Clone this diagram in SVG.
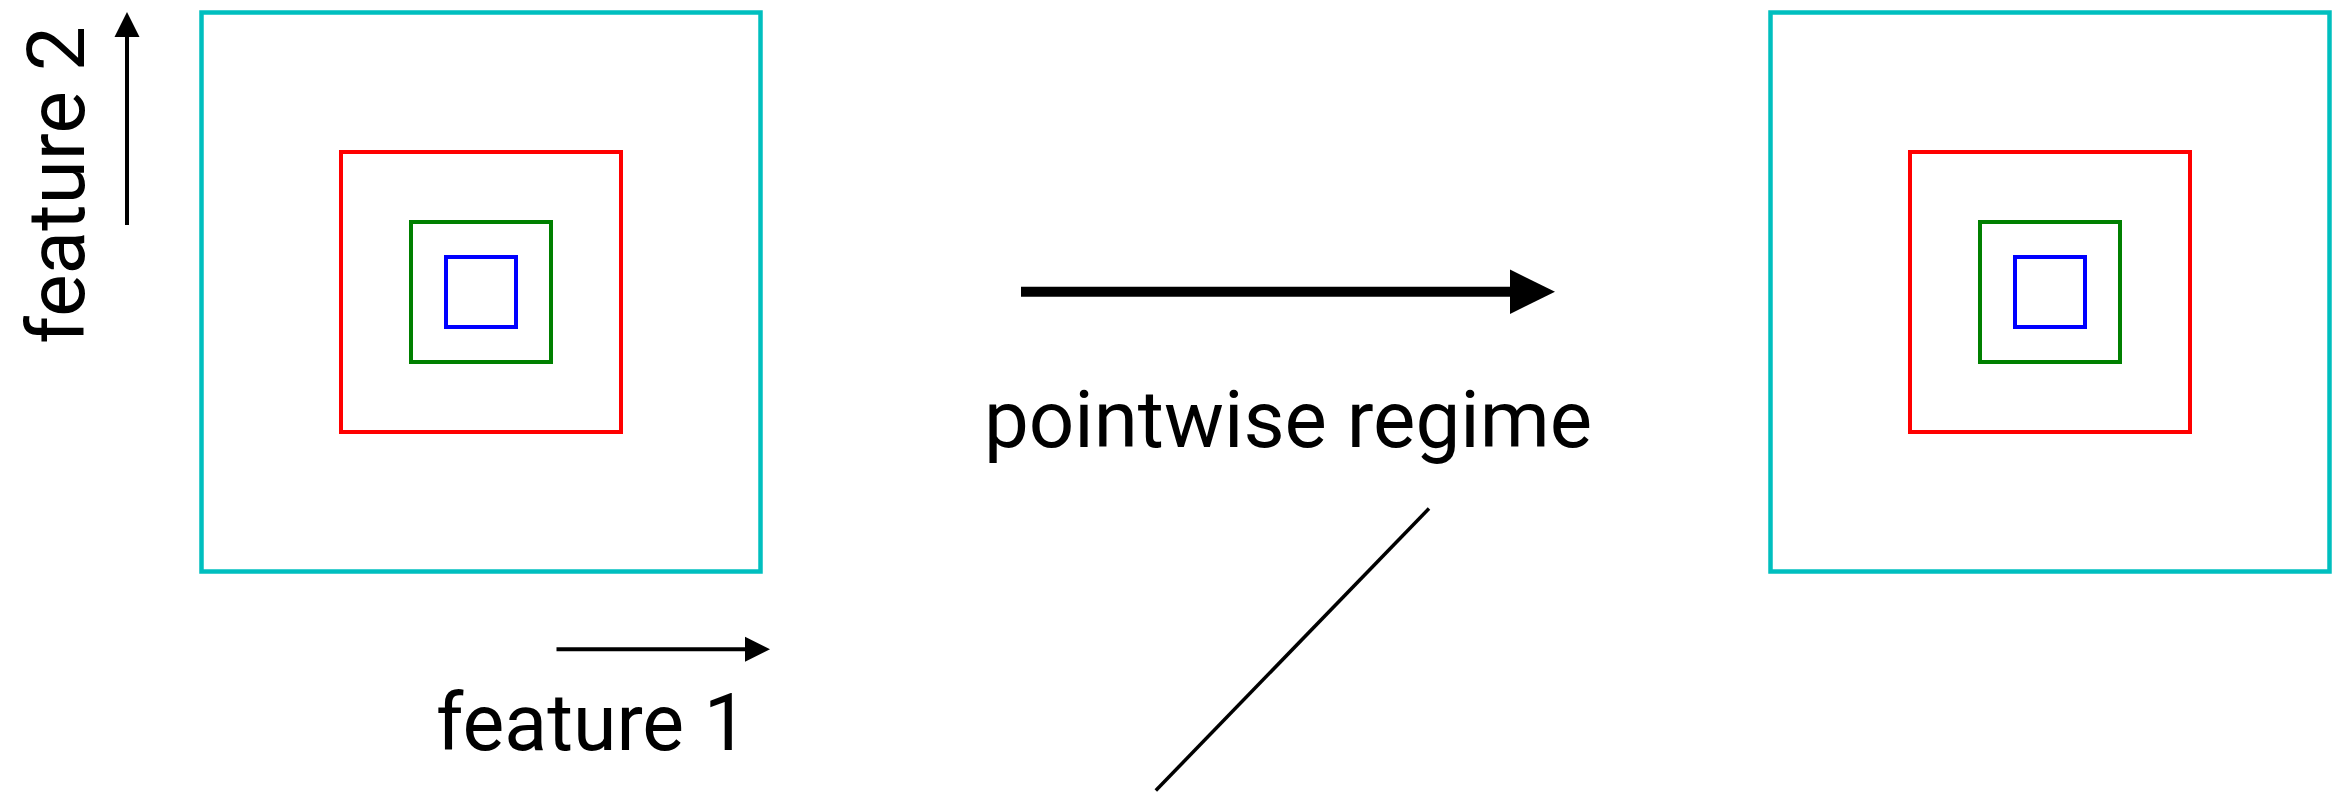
<svg xmlns="http://www.w3.org/2000/svg" width="2332" height="792" viewBox="0 0 2332 792">
  <style>
    .box { fill: none; stroke-linejoin: miter; }
    .c1 { stroke: #00bfbf; stroke-width: 4.5; }
    .c2 { stroke: #ff0000; stroke-width: 4; }
    .c3 { stroke: #008000; stroke-width: 4; }
    .c4 { stroke: #0000ff; stroke-width: 4; }
    .lbl { font-family: Roboto, Lato, "Liberation Sans", sans-serif; font-weight: 400; fill: #000; }
    .ax { stroke: #000; stroke-width: 4; fill: none; }
  </style>
  <rect width="2332" height="792" fill="#ffffff"/>

  <!-- left set of nested level sets -->
  <g id="left-squares">
    <rect class="box c1" x="201.5" y="12.5" width="559" height="559"/>
    <rect class="box c2" x="341" y="152" width="280" height="280"/>
    <rect class="box c3" x="411" y="222" width="140" height="140"/>
    <rect class="box c4" x="446" y="257" width="70" height="70"/>
  </g>

  <!-- right set of nested level sets -->
  <g id="right-squares">
    <rect class="box c1" x="1770.5" y="12.5" width="559" height="559"/>
    <rect class="box c2" x="1910" y="152" width="280" height="280"/>
    <rect class="box c3" x="1980" y="222" width="140" height="140"/>
    <rect class="box c4" x="2015" y="257" width="70" height="70"/>
  </g>

  <!-- axis labels -->
  <g id="feature-2">
    <line class="ax" x1="127" y1="225" x2="127" y2="36"/>
    <polygon points="127,12 114.5,37 139.5,37" fill="#000"/>
    <text class="lbl" font-size="80" transform="translate(84,344) rotate(-90)" textLength="318" lengthAdjust="spacingAndGlyphs">feature 2</text>
  </g>

  <g id="feature-1">
    <line class="ax" x1="556.5" y1="649.3" x2="746" y2="649.3"/>
    <polygon points="770,649.3 745,636.8 745,661.8" fill="#000"/>
    <text class="lbl" font-size="80" x="436" y="750" textLength="312" lengthAdjust="spacingAndGlyphs">feature 1</text>
  </g>

  <!-- transition between the two panels -->
  <g id="connectors">
    <line x1="1021" y1="291.7" x2="1512" y2="291.7" stroke="#000" stroke-width="10"/>
    <polygon points="1555,291.7 1510,269.5 1510,314" fill="#000"/>
    <line x1="1429" y1="508.5" x2="1155.8" y2="790.5" stroke="#000" stroke-width="3.5"/>
  </g>

  <g id="pointwise-label">
    <text class="lbl" font-size="80" x="984" y="446.7" textLength="608" lengthAdjust="spacingAndGlyphs">pointwise regime</text>
  </g>
</svg>
